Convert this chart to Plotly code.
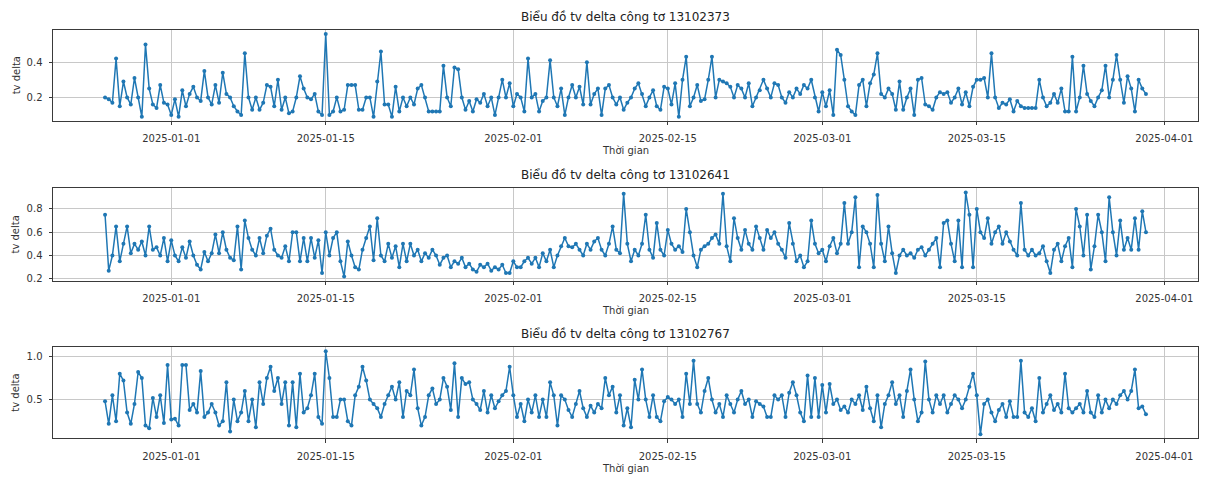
import pandas as pd
import plotly.graph_objects as go

# ---- data ----
start_time = "2024-12-26 00:00"
n_points = 284
freq = "8h"

meter_ids = ["13102373", "13102641", "13102767"]

series_13102373 = [
    0.20, 0.19, 0.17, 0.42, 0.15, 0.29, 0.20, 0.16, 0.31, 0.20, 0.09, 0.50,
    0.25, 0.16, 0.14, 0.27, 0.17, 0.16, 0.10, 0.19, 0.09, 0.24, 0.15, 0.22,
    0.26, 0.20, 0.18, 0.35, 0.20, 0.16, 0.27, 0.17, 0.34, 0.22, 0.20, 0.15,
    0.12, 0.10, 0.45, 0.20, 0.13, 0.20, 0.13, 0.17, 0.27, 0.26, 0.15, 0.30,
    0.13, 0.20, 0.11, 0.12, 0.20, 0.32, 0.25, 0.20, 0.19, 0.22, 0.12, 0.10,
    0.56, 0.10, 0.12, 0.20, 0.12, 0.13, 0.27, 0.27, 0.27, 0.13, 0.13, 0.20,
    0.20, 0.09, 0.29, 0.46, 0.16, 0.16, 0.09, 0.26, 0.12, 0.20, 0.15, 0.20,
    0.16, 0.25, 0.27, 0.20, 0.12, 0.12, 0.12, 0.12, 0.38, 0.20, 0.15, 0.37,
    0.36, 0.20, 0.13, 0.18, 0.12, 0.19, 0.17, 0.22, 0.15, 0.20, 0.10, 0.20,
    0.30, 0.20, 0.28, 0.15, 0.22, 0.20, 0.12, 0.42, 0.20, 0.22, 0.12, 0.18,
    0.20, 0.41, 0.20, 0.15, 0.25, 0.10, 0.20, 0.27, 0.20, 0.26, 0.16, 0.40,
    0.16, 0.22, 0.25, 0.10, 0.25, 0.27, 0.20, 0.16, 0.20, 0.13, 0.17, 0.20,
    0.25, 0.28, 0.22, 0.15, 0.20, 0.24, 0.15, 0.13, 0.26, 0.25, 0.16, 0.28,
    0.09, 0.30, 0.43, 0.15, 0.20, 0.27, 0.18, 0.19, 0.30, 0.43, 0.20, 0.30,
    0.29, 0.28, 0.26, 0.20, 0.27, 0.25, 0.20, 0.28, 0.15, 0.20, 0.24, 0.30,
    0.25, 0.20, 0.28, 0.27, 0.20, 0.17, 0.23, 0.20, 0.25, 0.22, 0.27, 0.25,
    0.30, 0.20, 0.12, 0.23, 0.15, 0.24, 0.10, 0.47, 0.44, 0.30, 0.15, 0.12,
    0.10, 0.27, 0.30, 0.15, 0.28, 0.33, 0.45, 0.22, 0.20, 0.25, 0.22, 0.13,
    0.29, 0.13, 0.20, 0.25, 0.10, 0.30, 0.31, 0.16, 0.15, 0.13, 0.20, 0.23,
    0.22, 0.23, 0.17, 0.20, 0.25, 0.16, 0.23, 0.15, 0.26, 0.30, 0.30, 0.31,
    0.20, 0.45, 0.20, 0.14, 0.17, 0.16, 0.19, 0.12, 0.18, 0.15, 0.14, 0.14,
    0.14, 0.14, 0.30, 0.20, 0.15, 0.17, 0.22, 0.17, 0.25, 0.12, 0.12, 0.43,
    0.12, 0.20, 0.38, 0.22, 0.18, 0.15, 0.20, 0.24, 0.38, 0.20, 0.30, 0.44,
    0.30, 0.17, 0.32, 0.25, 0.12, 0.30, 0.25, 0.22,
]

series_13102641 = [
    0.75, 0.27, 0.40, 0.65, 0.35, 0.50, 0.65, 0.42, 0.50, 0.45, 0.52, 0.40,
    0.65, 0.45, 0.47, 0.40, 0.55, 0.35, 0.53, 0.40, 0.35, 0.47, 0.38, 0.52,
    0.40, 0.32, 0.28, 0.43, 0.35, 0.42, 0.58, 0.42, 0.60, 0.45, 0.38, 0.36,
    0.65, 0.28, 0.70, 0.55, 0.45, 0.40, 0.55, 0.42, 0.57, 0.63, 0.45, 0.40,
    0.38, 0.48, 0.35, 0.60, 0.60, 0.35, 0.55, 0.35, 0.55, 0.38, 0.53, 0.25,
    0.60, 0.40, 0.55, 0.60, 0.35, 0.22, 0.52, 0.40, 0.30, 0.28, 0.45, 0.55,
    0.65, 0.36, 0.72, 0.40, 0.35, 0.50, 0.38, 0.48, 0.30, 0.50, 0.35, 0.50,
    0.40, 0.45, 0.35, 0.42, 0.38, 0.45, 0.40, 0.32, 0.38, 0.40, 0.30, 0.35,
    0.33, 0.38, 0.30, 0.33, 0.28, 0.26, 0.32, 0.30, 0.33, 0.27, 0.30, 0.28,
    0.32, 0.25, 0.25, 0.35, 0.30, 0.30, 0.35, 0.38, 0.33, 0.38, 0.30, 0.42,
    0.35, 0.45, 0.30, 0.40, 0.48, 0.55, 0.48, 0.47, 0.50, 0.45, 0.40, 0.50,
    0.45, 0.52, 0.55, 0.45, 0.40, 0.50, 0.65, 0.45, 0.42, 0.93, 0.50, 0.35,
    0.45, 0.40, 0.50, 0.75, 0.45, 0.38, 0.68, 0.45, 0.40, 0.62, 0.50, 0.45,
    0.48, 0.43, 0.80, 0.60, 0.40, 0.30, 0.45, 0.48, 0.50, 0.55, 0.58, 0.50,
    0.93, 0.48, 0.35, 0.72, 0.55, 0.45, 0.62, 0.50, 0.45, 0.65, 0.55, 0.45,
    0.62, 0.55, 0.60, 0.50, 0.45, 0.38, 0.68, 0.50, 0.35, 0.40, 0.30, 0.35,
    0.70, 0.50, 0.42, 0.45, 0.35, 0.48, 0.55, 0.42, 0.50, 0.85, 0.50, 0.60,
    0.90, 0.30, 0.65, 0.60, 0.50, 0.30, 0.92, 0.50, 0.35, 0.65, 0.42, 0.25,
    0.40, 0.45, 0.40, 0.42, 0.38, 0.45, 0.47, 0.40, 0.45, 0.50, 0.55, 0.30,
    0.68, 0.70, 0.50, 0.35, 0.70, 0.30, 0.94, 0.75, 0.30, 0.80, 0.60, 0.55,
    0.72, 0.50, 0.60, 0.65, 0.50, 0.60, 0.52, 0.45, 0.40, 0.85, 0.45, 0.40,
    0.45, 0.40, 0.42, 0.48, 0.35, 0.25, 0.45, 0.50, 0.35, 0.48, 0.55, 0.30,
    0.80, 0.65, 0.40, 0.75, 0.28, 0.48, 0.75, 0.60, 0.35, 0.90, 0.60, 0.40,
    0.70, 0.45, 0.55, 0.45, 0.72, 0.45, 0.78, 0.60,
]

series_13102767 = [
    0.48, 0.22, 0.55, 0.25, 0.80, 0.72, 0.35, 0.22, 0.45, 0.82, 0.75, 0.20,
    0.17, 0.52, 0.30, 0.55, 0.23, 0.90, 0.27, 0.28, 0.20, 0.90, 0.90, 0.38,
    0.45, 0.35, 0.83, 0.30, 0.35, 0.45, 0.35, 0.20, 0.25, 0.70, 0.13, 0.50,
    0.25, 0.35, 0.60, 0.25, 0.50, 0.18, 0.70, 0.45, 0.75, 0.88, 0.60, 0.75,
    0.45, 0.70, 0.20, 0.70, 0.18, 0.80, 0.35, 0.40, 0.55, 0.80, 0.30, 0.22,
    1.06, 0.75, 0.30, 0.30, 0.50, 0.50, 0.25, 0.20, 0.55, 0.65, 0.88, 0.72,
    0.50, 0.45, 0.40, 0.30, 0.45, 0.55, 0.65, 0.50, 0.70, 0.30, 0.60, 0.55,
    0.85, 0.40, 0.20, 0.30, 0.55, 0.63, 0.45, 0.50, 0.75, 0.65, 0.38, 0.92,
    0.30, 0.75, 0.68, 0.70, 0.50, 0.45, 0.38, 0.60, 0.35, 0.55, 0.40, 0.48,
    0.55, 0.60, 0.88, 0.55, 0.30, 0.45, 0.25, 0.50, 0.35, 0.55, 0.30, 0.50,
    0.30, 0.70, 0.55, 0.20, 0.55, 0.50, 0.38, 0.30, 0.45, 0.60, 0.40, 0.30,
    0.43, 0.35, 0.45, 0.40, 0.75, 0.55, 0.65, 0.35, 0.55, 0.20, 0.40, 0.18,
    0.73, 0.50, 0.85, 0.50, 0.30, 0.55, 0.30, 0.25, 0.48, 0.53, 0.50, 0.45,
    0.50, 0.30, 0.80, 0.45, 0.95, 0.45, 0.35, 0.60, 0.75, 0.50, 0.35, 0.45,
    0.30, 0.55, 0.45, 0.35, 0.50, 0.60, 0.45, 0.50, 0.30, 0.48, 0.45, 0.42,
    0.30, 0.30, 0.55, 0.50, 0.55, 0.30, 0.58, 0.70, 0.55, 0.35, 0.25, 0.78,
    0.30, 0.75, 0.30, 0.67, 0.35, 0.68, 0.45, 0.50, 0.38, 0.42, 0.35, 0.50,
    0.45, 0.55, 0.38, 0.65, 0.40, 0.25, 0.55, 0.18, 0.45, 0.55, 0.70, 0.45,
    0.55, 0.30, 0.60, 0.85, 0.50, 0.25, 0.35, 0.94, 0.50, 0.35, 0.55, 0.45,
    0.55, 0.35, 0.45, 0.55, 0.50, 0.40, 0.50, 0.65, 0.80, 0.55, 0.10, 0.45,
    0.50, 0.35, 0.25, 0.38, 0.45, 0.30, 0.48, 0.30, 0.30, 0.95, 0.35, 0.30,
    0.40, 0.25, 0.75, 0.35, 0.45, 0.55, 0.38, 0.45, 0.35, 0.80, 0.40, 0.35,
    0.40, 0.45, 0.35, 0.60, 0.35, 0.30, 0.55, 0.35, 0.50, 0.40, 0.50, 0.45,
    0.55, 0.60, 0.50, 0.60, 0.85, 0.40, 0.42, 0.33,
]

all_series = [series_13102373, series_13102641, series_13102767]

x_tick_dates = ["2025-01-01", "2025-01-15", "2025-02-01", "2025-02-15",
                "2025-03-01", "2025-03-15", "2025-04-01"]
y_ticks = [[0.2, 0.4], [0.2, 0.4, 0.6, 0.8], [0.5, 1.0]]

title_prefix = "Biểu đồ tv delta công tơ "
x_title = "Thời gian"
y_title = "tv delta"

# ---- figure ----
W, H = 1206, 481
times = pd.date_range(start_time, periods=n_points, freq=freq)

# plot-area pixel boxes (top, bottom) for each panel
x_left, x_right = 53, 1198
panels = [(30, 122), (190, 283), (350, 442)]

blue = "#1f77b4"
font_family = "DejaVu Sans, Arial, sans-serif"
fig = go.Figure()
layout = dict(
    width=W, height=H,
    margin=dict(l=0, r=0, t=0, b=0),
    paper_bgcolor="white", plot_bgcolor="white",
    showlegend=False,
    font=dict(family=font_family, size=10, color="#333333"),
    annotations=[],
)

t0, t1 = times.min(), times.max()
span = t1 - t0
x_range = [t0 - span * 0.05, t1 + span * 0.05]

for k, (vals, mid) in enumerate(zip(all_series, meter_ids)):
    idx = "" if k == 0 else str(k + 1)
    fig.add_trace(go.Scatter(
        x=times, y=vals, mode="lines+markers",
        line=dict(color=blue, width=1.5),
        marker=dict(color=blue, size=4),
        xaxis="x" + idx, yaxis="y" + idx,
    ))
    top, bot = panels[k]
    ydom = [1 - bot / H, 1 - top / H]
    vmin, vmax = min(vals), max(vals)
    vs = vmax - vmin
    axis_common = dict(
        showline=True, mirror=True, linecolor="#3a3a3a", linewidth=1,
        ticks="outside", ticklen=3.5, tickcolor="#3a3a3a",
        showgrid=True, gridcolor="#c8c8c8", gridwidth=0.8,
        zeroline=False,
        tickfont=dict(size=10, color="#333333"),
    )
    layout["xaxis" + idx] = dict(
        domain=[x_left / W, x_right / W],
        anchor="y" + idx,
        type="date",
        range=x_range,
        tickvals=x_tick_dates,
        ticktext=x_tick_dates,
        ticklabelstandoff=5,
        **axis_common,
    )
    layout["yaxis" + idx] = dict(
        domain=ydom,
        anchor="x" + idx,
        range=[vmin - vs * 0.05, vmax + vs * 0.05],
        tickvals=y_ticks[k],
        ticktext=["%.1f" % v for v in y_ticks[k]],
        ticklabelstandoff=4,
        **axis_common,
    )
    # panel title
    layout["annotations"].append(dict(
        text=title_prefix + mid, xref="paper", yref="paper",
        x=(x_left + x_right) / 2 / W, y=1 - top / H,
        xanchor="center", yanchor="bottom", yshift=4, showarrow=False,
        font=dict(size=12, color="#222222"),
    ))
    # x-axis title
    layout["annotations"].append(dict(
        text=x_title, xref="paper", yref="paper",
        x=(x_left + x_right) / 2 / W, y=1 - (bot + 30) / H,
        xanchor="center", yanchor="middle", showarrow=False,
        font=dict(size=10, color="#333333"),
    ))
    # y-axis title
    layout["annotations"].append(dict(
        text=y_title, xref="paper", yref="paper",
        x=16 / W, y=1 - (top + bot) / 2 / H,
        xanchor="center", yanchor="middle", textangle=-90, showarrow=False,
        font=dict(size=10, color="#333333"),
    ))

fig.update_layout(**layout)
fig.write_html(
    "out.html",
    config={"displayModeBar": False},
    post_script="document.body.style.margin='0';document.body.style.overflow='hidden';",
)
